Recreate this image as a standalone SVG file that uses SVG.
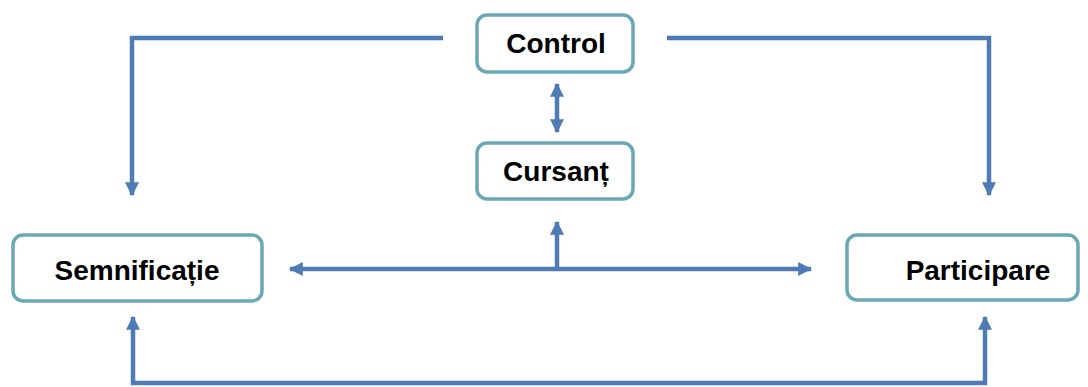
<svg xmlns="http://www.w3.org/2000/svg" width="1088" height="387" viewBox="0 0 1088 387">
<defs>
<style>
.box{fill:#ffffff;stroke:#6aa8b6;stroke-width:3.5}
.lbl{font-family:"Liberation Sans",Arial,sans-serif;font-weight:bold;font-size:28px;fill:#000;text-anchor:middle}
.ln{fill:none;stroke:#4e7bb3;stroke-width:4.5}
</style>
<marker id="ah" viewBox="0 0 12 12" refX="11" refY="6" markerWidth="14" markerHeight="14" markerUnits="userSpaceOnUse" orient="auto-start-reverse">
<path d="M0,0 L12,6 L0,12 Z" fill="#4e7bb3"/>
</marker>
</defs>
<rect width="1088" height="387" fill="#ffffff"/>
<g id="connectors">
<polyline class="ln" points="443,38 132,38 132,195" marker-end="url(#ah)"/>
<polyline class="ln" points="667,38 989,38 989,195" marker-end="url(#ah)"/>
<line class="ln" x1="557" y1="84" x2="557" y2="132" marker-start="url(#ah)" marker-end="url(#ah)"/>
<line class="ln" x1="290" y1="269" x2="811" y2="269" marker-start="url(#ah)" marker-end="url(#ah)"/>
<line class="ln" x1="557" y1="269" x2="557" y2="222" marker-end="url(#ah)"/>
<polyline class="ln" points="133,317 133,383 985,383 985,317" marker-start="url(#ah)" marker-end="url(#ah)"/>
</g>
<g id="control">
<rect class="box" x="477" y="15" width="156" height="57" rx="10"/>
<text class="lbl" x="556" y="53">Control</text>
</g>
<g id="cursant">
<rect class="box" x="477" y="143" width="156" height="56" rx="10"/>
<text class="lbl" x="556" y="181">Cursanț</text>
</g>
<g id="semnificatie">
<rect class="box" x="13" y="235" width="249" height="66" rx="10"/>
<text class="lbl" x="137" y="280">Semnificație</text>
</g>
<g id="participare">
<rect class="box" x="847" y="235" width="231" height="65" rx="10"/>
<text class="lbl" x="978" y="280">Participare</text>
</g>
</svg>
